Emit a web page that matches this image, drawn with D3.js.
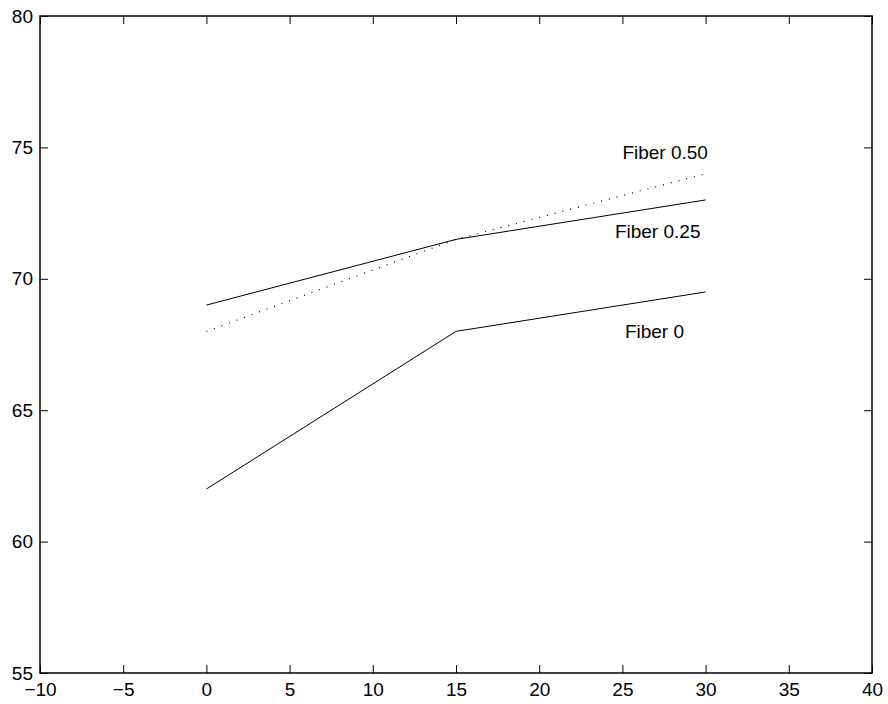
<!DOCTYPE html>
<html><head><meta charset="utf-8">
<script src="https://cdn.jsdelivr.net/npm/d3@7"></script>
<style>body{margin:0;background:#fff}svg{display:block}text{font-family:Arial,"Liberation Sans",Helvetica,sans-serif}</style>
</head><body>
<svg id="c" width="888" height="704"></svg>
<script>
const xVals = [0, 15, 30];
const fiber0 = [62, 68, 69.5];
const fiber025 = [69, 71.5, 73];
const fiber050 = [68, 71.5, 74];
const xTicks = [-10, -5, 0, 5, 10, 15, 20, 25, 30, 35, 40];
const yTicks = [55, 60, 65, 70, 75, 80];
const labels = [
  {text: "Fiber 0.50", x: 25.0, y: 74.56},
  {text: "Fiber 0.25", x: 24.55, y: 71.55},
  {text: "Fiber 0", x: 25.15, y: 67.75}
];

const L = 40, R = 872, T = 16, B = 673;
const svg = d3.select("#c");
const x = d3.scaleLinear().domain([-10, 40]).range([L, R]);
const y = d3.scaleLinear().domain([55, 80]).range([B, T]);
const fs = 19;
const tl = 8;

const g = svg.append("g");
g.append("rect").attr("x", L).attr("y", T).attr("width", R - L).attr("height", B - T)
  .attr("fill", "none").attr("stroke", "#000").attr("stroke-width", 1.5);

const xb = g.append("g").attr("transform", `translate(0,${B})`)
  .call(d3.axisBottom(x).tickValues(xTicks).tickSizeInner(-tl).tickSizeOuter(0).tickPadding(10)
    .tickFormat(d => d < 0 ? "\u2212" + Math.abs(d) : d));
const xt = g.append("g").attr("transform", `translate(0,${T})`)
  .call(d3.axisTop(x).tickValues(xTicks).tickSizeInner(-tl).tickSizeOuter(0).tickFormat(""));
const yl = g.append("g").attr("transform", `translate(${L},0)`)
  .call(d3.axisLeft(y).tickValues(yTicks).tickSizeInner(-tl).tickSizeOuter(0).tickPadding(7));
const yr = g.append("g").attr("transform", `translate(${R},0)`)
  .call(d3.axisRight(y).tickValues(yTicks).tickSizeInner(-tl).tickSizeOuter(0).tickFormat(""));
[xb, xt, yl, yr].forEach(a => {
  a.select(".domain").remove();
  a.selectAll("line").attr("stroke", "#000").attr("stroke-width", 1);
  a.selectAll("text").attr("fill", "#000").style("font-size", fs + "px").style("font-family", "Arial, 'Liberation Sans', sans-serif");
});

const line = d3.line().x((d, i) => x(xVals[i])).y(d => y(d));
g.append("path").datum(fiber0).attr("d", line).attr("fill", "none").attr("stroke", "#000").attr("stroke-width", 1);
g.append("path").datum(fiber025).attr("d", line).attr("fill", "none").attr("stroke", "#000").attr("stroke-width", 1);
g.append("path").datum(fiber050).attr("d", line).attr("fill", "none").attr("stroke", "#000").attr("stroke-width", 1.2)
  .attr("stroke-dasharray", "1,7");

g.selectAll(".lab").data(labels).enter().append("text")
  .attr("x", d => x(d.x)).attr("y", d => y(d.y))
  .style("font-size", fs + "px").attr("fill", "#000").text(d => d.text);
</script>
</body></html>
